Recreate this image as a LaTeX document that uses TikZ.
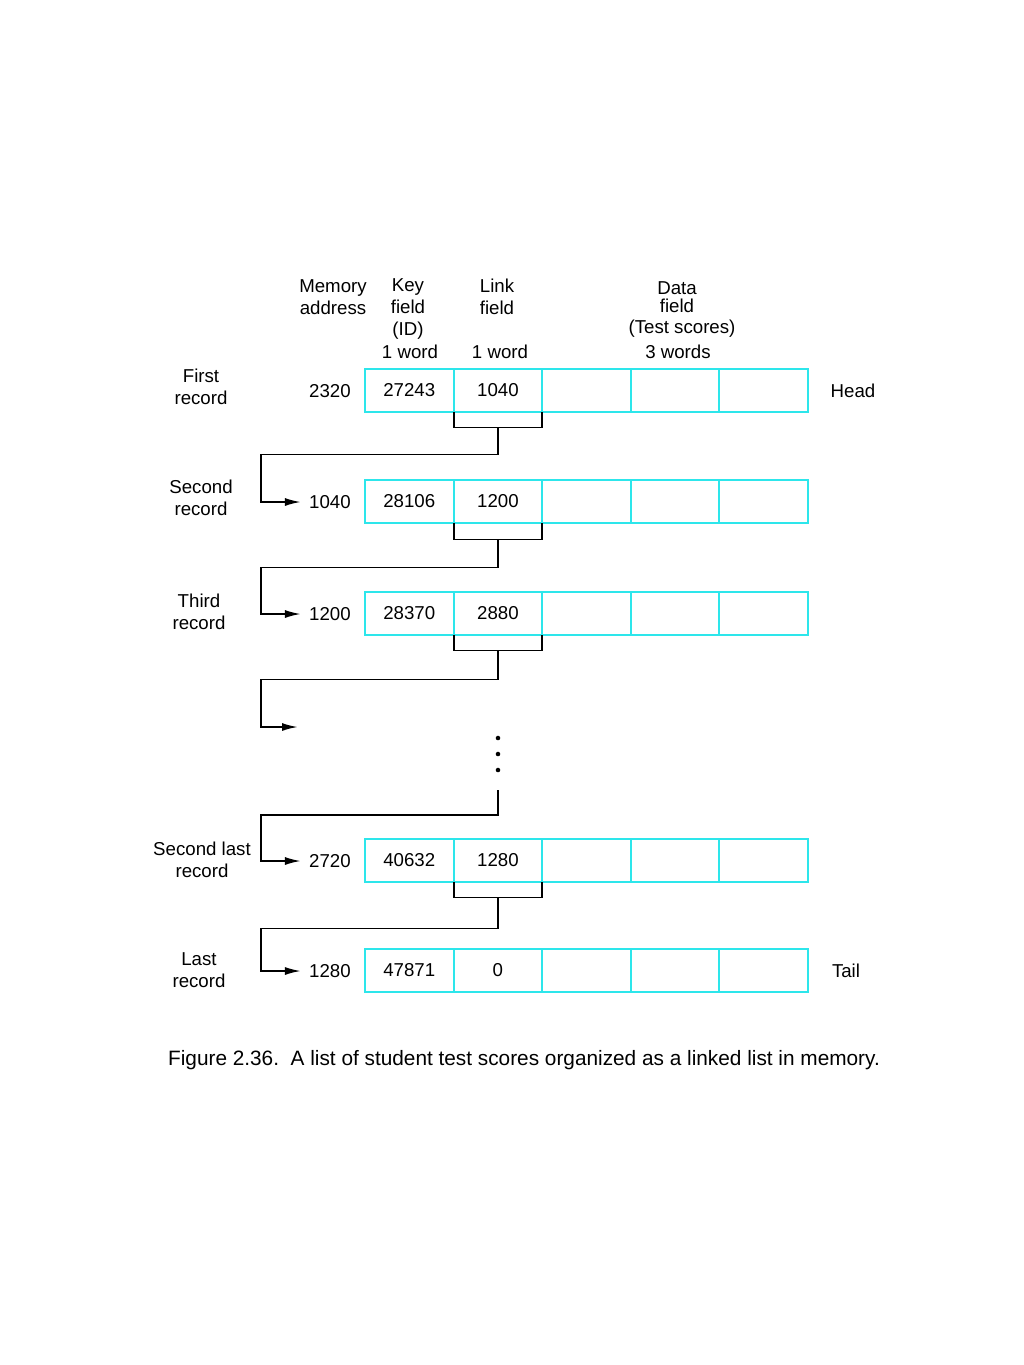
\documentclass[tikz,border=0pt]{standalone}
\usepackage{fontspec}
\setmainfont{Liberation Sans}
\usetikzlibrary{arrows.meta,positioning}
\definecolor{cellcyan}{RGB}{45,230,235}

\begin{document}
\begin{tikzpicture}[
    x=0.75pt, y=-0.75pt,
    font=\fontsize{14}{16.5}\selectfont,
    cell/.style={rectangle, draw=cellcyan, line width=1.5pt, minimum width=66.45pt, minimum height=32.25pt, inner sep=0pt, outer sep=0pt},
    addr/.style={inner sep=0pt},
    rec/.style={align=center, inner sep=0pt},
    hdr/.style={align=center, inner sep=0pt},
    bracket/.style={line width=1.4pt},
    arrow/.style={-{Latex[length=12pt,width=6pt]}, line width=1.4pt}
]
\useasboundingbox (0,0) rectangle (1024,1365);

% column headings
\node[hdr] (memh) at (333,297) {Memory\\address};
\node[hdr] (keyh) at (408,309.5) {Key\\field\\(ID)};
\node[hdr] (keyw) at (410,352) {1 word};
\node[hdr] (linkh) at (497,297) {Link\\field};
\node[hdr] (linkw) at (500,352) {1 word};
\node[hdr] (datah) at (677,297) {Data\\[-3.5pt]field};
\node[hdr] (datat) at (682,329) {(Test scores)};
\node[hdr] (dataw) at (678,352) {3 words};

% first record
\node[rec] (r1) at (201,387) {First\\record};
\node[addr] (a1) at (330,391) {2320};
\node[cell] (k1) at (409.3,390) {27243};
\node[cell, right=0pt of k1] (l1) {1040};
\node[cell, right=0pt of l1] (d1a) {};
\node[cell, right=0pt of d1a] (d1b) {};
\node[cell, right=0pt of d1b] (d1c) {};
\node (head) at (853,391) {Head};

% second record
\node[rec] (r2) at (201,498) {Second\\record};
\node[addr] (a2) at (330,502) {1040};
\node[cell] (k2) at (409.3,501) {28106};
\node[cell, right=0pt of k2] (l2) {1200};
\node[cell, right=0pt of l2] (d2a) {};
\node[cell, right=0pt of d2a] (d2b) {};
\node[cell, right=0pt of d2b] (d2c) {};

% third record
\node[rec] (r3) at (199,612) {Third\\record};
\node[addr] (a3) at (330,614) {1200};
\node[cell] (k3) at (409.3,613) {28370};
\node[cell, right=0pt of k3] (l3) {2880};
\node[cell, right=0pt of l3] (d3a) {};
\node[cell, right=0pt of d3a] (d3b) {};
\node[cell, right=0pt of d3b] (d3c) {};

% second last record
\node[rec] (r5) at (202,859.5) {Second last\\record};
\node[addr] (a5) at (330,861) {2720};
\node[cell] (k5) at (409.3,860) {40632};
\node[cell, right=0pt of k5] (l5) {1280};
\node[cell, right=0pt of l5] (d5a) {};
\node[cell, right=0pt of d5a] (d5b) {};
\node[cell, right=0pt of d5b] (d5c) {};

% last record
\node[rec] (r6) at (199,970.5) {Last\\record};
\node[addr] (a6) at (330,971) {1280};
\node[cell] (k6) at (409.3,970) {47871};
\node[cell, right=0pt of k6] (l6) {0};
\node[cell, right=0pt of l6] (d6a) {};
\node[cell, right=0pt of d6a] (d6b) {};
\node[cell, right=0pt of d6b] (d6c) {};
\node (tail) at (846,971) {Tail};

% links between records
\draw[bracket] (l1.south west) -- ++(0,16) -| coordinate[pos=0.25](b1) (l1.south east);
\draw[arrow] (b1) |- ++(-237,27) |- ([xshift=-6pt]a2.west);
\draw[bracket] (l2.south west) -- ++(0,17) -| coordinate[pos=0.25](b2) (l2.south east);
\draw[arrow] (b2) |- ++(-237,28) |- ([xshift=-6pt]a3.west);
\draw[bracket] (l3.south west) -- ++(0,16) -| coordinate[pos=0.25](b3) (l3.south east);
\coordinate (gapout) at (298,727);
\draw[arrow] (b3) |- ++(-237,29) |- (gapout);

% omitted records
\fill (498,738) circle (1.7pt) (498,754) circle (1.7pt) (498,770) circle (1.7pt);
\coordinate (gapin) at (498,790);
\draw[arrow] (gapin) |- ++(-237,25) |- ([xshift=-6pt]a5.west);
\draw[bracket] (l5.south west) -- ++(0,16) -| coordinate[pos=0.25](b5) (l5.south east);
\draw[arrow] (b5) |- ++(-237,31) |- ([xshift=-6pt]a6.west);

% caption
\node[font=\fontsize{15.6}{18}\selectfont] (caption) at (524,1060) {Figure 2.36.\ \ A list of student test scores organized as a linked list in memory.};

\end{tikzpicture}
\end{document}
